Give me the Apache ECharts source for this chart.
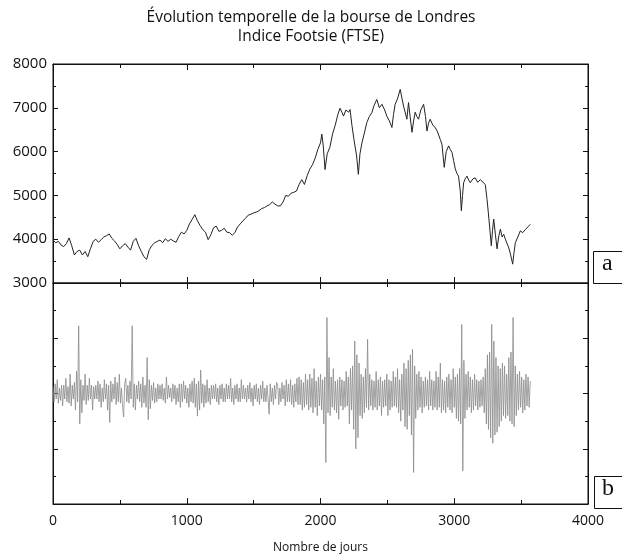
<!DOCTYPE html>
<html>
<head>
<meta charset="utf-8">
<script src="https://cdn.jsdelivr.net/npm/echarts@6/dist/echarts.min.js"></script>
<style>html,body{margin:0;padding:0;background:#fff}#c{width:622px;height:555px}</style>
</head>
<body>
<div id="c"></div>
<script>
// Panel (a): FTSE index level, [day, value]
const ftseDays = [0,20,40,60,80,100,120,140,160,180,200,220,240,260,280,300,320,340,360,380,400,420,440,460,480,500,520,540,560,580,600,620,640,660,680,700,720,740,760,780,800,820,840,860,880,900,920,940,960,980,1000,1020,1040,1060,1080,1100,1120,1140,1160,1180,1200,1220,1240,1260,1280,1300,1320,1340,1360,1380,1400,1420,1440,1460,1480,1500,1520,1540,1560,1580,1600,1620,1640,1660,1680,1700,1720,1740,1760,1780,1800,1820,1840,1860,1880,1900,1920,1940,1960,1980,2000,2010,2020,2034,2050,2070,2090,2110,2130,2146,2160,2172,2190,2210,2221,2235,2250,2270,2283,2295,2310,2330,2346,2365,2384,2400,2421,2440,2459,2480,2496,2515,2534,2546,2558,2575,2596,2610,2621,2646,2658,2670,2684,2696,2708,2720,2733,2750,2771,2785,2796,2808,2820,2840,2858,2875,2895,2908,2925,2940,2958,2970,2983,2995,3008,3020,3032,3045,3053,3062,3070,3082,3095,3108,3120,3140,3157,3175,3195,3215,3232,3245,3255,3264,3277,3286,3295,3308,3320,3332,3345,3358,3370,3382,3395,3408,3420,3437,3447,3457,3475,3494,3512,3532,3550,3569];
const ftseValues = [3980,3920,3950,3870,3830,3900,4030,3850,3640,3720,3750,3640,3720,3600,3780,3950,4000,3930,3990,4050,4080,4120,4020,3960,3880,3780,3850,3900,3820,3750,3950,4020,3850,3720,3600,3540,3760,3860,3920,3950,3980,3920,4010,3950,4000,3960,3930,4060,4160,4120,4200,4350,4450,4560,4420,4310,4220,4160,3990,4100,4260,4300,4180,4200,4250,4160,4150,4090,4150,4280,4350,4420,4480,4550,4570,4600,4620,4650,4700,4720,4760,4790,4850,4800,4760,4760,4850,5000,4980,5050,5070,5100,5250,5360,5250,5450,5600,5700,5850,6050,6200,6400,6150,5590,5950,6100,6400,6600,6850,6990,6900,6810,6950,6900,6960,6600,6280,5900,5480,5950,6200,6450,6660,6800,6890,7050,7190,7000,7080,6950,6810,6700,6550,6850,7080,7200,7420,7200,7040,6740,7120,6800,6440,6700,6900,6800,6740,6950,7080,6800,6470,6650,6740,6600,6550,6450,6280,6170,5640,6000,6130,6050,5980,5800,5600,5500,5440,5100,4650,5000,5290,5380,5440,5350,5290,5380,5400,5300,5360,5300,5250,4910,4600,4300,3850,4200,4460,4100,3780,4050,4230,4050,4110,4000,3960,3800,3660,3430,3700,3920,4050,4190,4150,4220,4280,4340];

// Panel (b): daily variations, one reading every 8 days (arbitrary units)
const retStepDays = 8;
const returnsValues = [
0.25,-0.3,0.35,-0.2,0.5,-0.35,0.2,-0.25,0.3,-0.45,
0.3,-0.2,0.55,-0.3,0.25,-0.35,0.7,-0.45,0.3,-0.2,
0.4,-0.6,0.8,-0.3,2.45,-1.1,0.5,-0.7,0.3,-0.25,
0.7,-0.4,0.3,-0.25,0.55,-0.2,0.3,-0.6,0.25,-0.2,
0.3,-0.2,0.45,-0.3,0.35,-0.5,0.2,-0.3,0.5,-0.2,
0.35,-0.6,0.3,-1.05,0.45,-0.3,0.35,-0.2,0.6,-0.4,
0.4,-0.3,0.7,-0.35,0.2,-0.45,-0.85,0.35,0.55,-0.3,
0.3,-0.35,0.45,-0.2,2.45,-0.5,0.35,-0.6,0.3,-0.2,
0.45,-0.3,0.35,-0.5,0.6,-0.35,0.3,-0.5,1.3,-0.95,
0.5,-0.55,0.3,-0.25,0.4,-0.35,0.2,-0.3,0.35,-0.2,
0.3,-0.2,0.35,-0.25,0.2,-0.35,0.6,-0.2,0.3,-0.15,
0.2,-0.3,0.35,-0.2,0.3,-0.4,0.2,-0.3,0.35,-0.5,
0.35,-0.3,0.45,-0.2,0.3,-0.35,0.2,-0.5,0.35,-0.3,
0.45,-0.35,0.55,-0.5,0.35,-0.82,0.45,-0.6,0.85,-0.35,
0.35,-0.5,0.3,-0.35,0.5,-0.3,0.2,-0.4,0.3,-0.2,
0.3,-0.2,0.35,-0.3,0.2,-0.4,0.3,-0.2,0.35,-0.3,
0.2,-0.3,0.35,-0.2,0.3,-0.2,0.55,-0.3,0.2,-0.4,
0.3,-0.2,0.35,-0.3,0.2,-0.3,0.5,-0.2,0.3,-0.2,
0.2,-0.3,0.3,-0.2,0.4,-0.3,0.2,-0.45,0.3,-0.2,
0.35,-0.3,0.2,-0.4,0.3,-0.2,0.45,-0.3,0.2,-0.3,
0.3,-0.2,-0.75,0.35,-0.3,0.2,-0.4,0.3,-0.2,0.4,
0.3,-0.4,0.2,-0.3,0.4,-0.2,0.3,-0.45,0.5,-0.3,
0.35,-0.3,0.5,-0.4,0.3,-0.5,0.35,-0.3,0.55,-0.4,
0.6,-0.4,0.5,-0.6,0.4,-0.5,0.7,-0.4,0.5,-0.6,
0.7,-0.5,0.55,-0.7,0.9,-0.5,0.45,-0.8,0.6,-0.45,
0.7,-0.6,0.5,-1.1,0.6,-2.5,2.75,-0.7,1.3,-0.8,
0.6,-0.5,0.9,-0.6,0.45,-0.7,0.5,-0.93,0.6,-0.45,
0.5,-0.6,0.45,-0.5,0.8,-0.45,0.6,-1.1,0.9,-0.6,
1.0,-1.3,1.9,-2.0,1.4,-1.6,1.1,-0.8,0.7,-0.9,
0.6,-0.7,0.9,-0.5,1.96,-0.6,0.7,-0.45,0.5,-0.6,
0.45,-0.5,0.8,-0.6,0.5,-0.45,0.6,-0.8,0.45,-0.5,
0.5,-0.45,0.7,-0.8,0.5,-0.6,0.45,-0.5,0.8,-0.45,
0.6,-0.5,0.9,-0.7,0.5,-1.0,0.7,-0.6,1.1,-1.2,
0.9,-1.3,1.2,-0.8,1.4,-1.5,1.6,-2.86,1.0,-0.9,
0.7,-0.6,0.8,-0.5,0.6,-0.7,0.45,-0.5,0.6,-0.45,
0.5,-0.6,0.8,-0.45,0.5,-0.6,0.45,-0.5,0.8,-0.6,
0.6,-0.5,1.1,-0.7,0.5,-0.6,0.45,-0.7,0.6,-0.5,
0.7,-0.6,0.5,-0.7,0.9,-0.5,0.6,-0.9,0.7,-1.0,
0.9,-1.1,2.5,-2.8,1.2,-0.9,0.7,-0.6,0.8,-0.5,
0.6,-0.7,0.5,-0.6,0.7,-0.45,0.5,-0.6,0.45,-0.5,
0.5,-0.45,0.6,-0.7,0.9,-1.1,1.4,-1.3,1.5,-1.6,
2.5,-1.8,1.9,-1.5,1.3,-1.4,1.0,-1.2,0.9,-1.0,
1.1,-0.8,1.0,-0.9,0.7,-0.8,1.3,-1.0,1.5,-1.1,
2.75,-1.2,1.0,-0.8,0.7,-0.6,0.8,-0.5,0.6,-0.7,
0.5,-0.6,0.7,-0.45,0.6,-0.5,0.45
];

const xTickLabels = [0,1000,2000,3000,4000];
const yTickLabelsA = [3000,4000,5000,6000,7000,8000];

const titleText = 'Évolution temporelle de la bourse de Londres\nIndice Footsie (FTSE)';
const xName = 'Nombre de jours';
const panelLetters = ['a','b'];

const ftseData = ftseDays.map((d,i)=>[d, ftseValues[i]]);
const retData = returnsValues.map((v,i)=>[i*retStepDays, v]);

const FONT = 'Open Sans';
const black = '#111';

function xAx(grid, pos, labels) {
  return {
    type:'value', gridIndex:grid, position:pos, min:0, max:4000, interval:1000,
    axisLine:{show:true, onZero:false, lineStyle:{color:black, width:1}},
    axisTick:{show:true, inside:true, length:6, lineStyle:{color:black}},
    minorTick:{show:true, splitNumber:2, length:4, lineStyle:{color:black}},
    splitLine:{show:false},
    axisLabel:{show:labels, color:black, fontFamily:FONT, fontSize:14, margin:10,
      formatter:v=> xTickLabels.includes(v) ? String(v) : ''},
    name: labels ? xName : '', nameLocation:'middle', nameGap:38,
    nameTextStyle:{color:black, fontFamily:FONT, fontSize:12}
  };
}
function yAx(grid, pos, min, max, interval, labels) {
  return {
    type:'value', gridIndex:grid, position:pos, min:min, max:max, interval:interval,
    axisLine:{show:true, onZero:false, lineStyle:{color:black, width:1}},
    axisTick:{show:true, inside:true, length:5, lineStyle:{color:black}},
    minorTick:{show:true, splitNumber:2, length:3, lineStyle:{color:black}},
    splitLine:{show:false},
    axisLabel:{show:labels, color:black, fontFamily:FONT, fontSize:15, margin:6,
      formatter:v=> yTickLabelsA.includes(v) ? String(v) : ''}
  };
}

const chart = echarts.init(document.getElementById('c'), null, {renderer:'canvas'});
chart.setOption({
  animation:false,
  backgroundColor:'#fff',
  title:{text:titleText, left:'center', top:3,
    textStyle:{fontFamily:FONT, fontSize:15.5, fontWeight:'normal', color:black, lineHeight:19}},
  grid:[
    {left:53, right:34, top:64, height:219, show:true, borderColor:black, borderWidth:1},
    {left:53, right:34, top:283, height:225, show:true, borderColor:black, borderWidth:1}
  ],
  xAxis:[ xAx(0,'bottom',false), xAx(0,'top',false), xAx(1,'bottom',true), xAx(1,'top',false) ],
  yAxis:[ yAx(0,'left',3000,8000,1000,true), yAx(0,'right',3000,8000,1000,false),
          yAx(1,'left',-4,4,2,false), yAx(1,'right',-4,4,2,false) ],
  series:[
    {type:'line', xAxisIndex:0, yAxisIndex:0, data:ftseData, showSymbol:false,
     lineStyle:{color:'#222', width:1}},
    {type:'line', xAxisIndex:2, yAxisIndex:2, data:retData, showSymbol:false,
     lineStyle:{color:'#8a8a8a', width:0.8}}
  ],
  graphic:[
    {type:'rect', left:593, top:251, shape:{width:32, height:32}, style:{fill:'#fff', stroke:black, lineWidth:1}},
    {type:'text', left:602, top:252, style:{text:panelLetters[0], font:'24px "Liberation Serif"', fill:black}},
    {type:'rect', left:594, top:476, shape:{width:32, height:32}, style:{fill:'#fff', stroke:black, lineWidth:1}},
    {type:'text', left:602, top:477, style:{text:panelLetters[1], font:'24px "Liberation Serif"', fill:black}}
  ]
});
</script>
</body>
</html>
